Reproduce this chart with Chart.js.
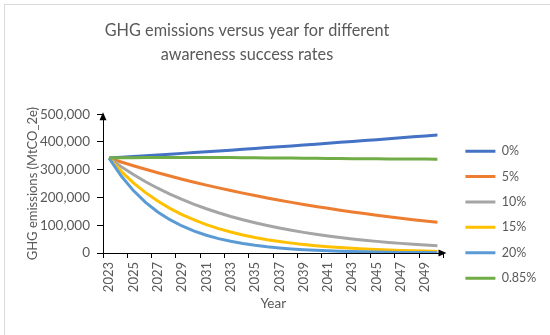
<!DOCTYPE html>
<html>
<head>
<meta charset="utf-8">
<script src="https://cdn.jsdelivr.net/npm/chart.js@4/dist/chart.umd.min.js"></script>
<style>
  html, body { margin: 0; padding: 0; background: #fff; overflow: hidden; }
  #wrap { position: relative; width: 550px; height: 335px; }
  #frame { position: absolute; left: 4px; top: 4px; width: 700px; height: 500px; border-left: 1px solid #d9d9d9; border-top: 1px solid #d9d9d9; }
  #ghgChart { position: absolute; left: 0; top: 0; }
</style>
</head>
<body>
<div id="wrap">
  <div id="frame"></div>
  <canvas id="ghgChart" width="550" height="335"></canvas>
</div>
<script>
const years = ["2023","2024","2025","2026","2027","2028","2029","2030","2031","2032","2033","2034","2035","2036",
  "2037","2038","2039","2040","2041","2042","2043","2044","2045","2046","2047","2048","2049","2050"];

const seriesNames = ["0%", "5%", "10%", "15%", "20%", "0.85%"];
const seriesColors = ["#4472C4", "#ED7D31", "#A5A5A5", "#FFC000", "#5B9BD5", "#70AD47"];

const rate0 = [342000, 344800, 347600, 350400, 353200, 356100, 359000, 361900, 364800, 367800, 370700, 373700, 376800, 379800,
  382900, 386000, 389100, 392300, 395500, 398700, 401900, 405200, 408400, 411800, 415100, 418500, 421900, 425300];
const rate5 = [342000, 328000, 314500, 301600, 289300, 277400, 266000, 255100, 244700, 234600, 225000, 215800, 206900, 198500,
  190300, 182500, 175000, 167900, 161000, 154400, 148100, 142000, 136200, 130600, 125200, 120100, 115200, 110400];
const rate10 = [342000, 310900, 282600, 256900, 233500, 212300, 193000, 175400, 159400, 144900, 131700, 119700, 108800, 98900,
  89900, 81800, 74300, 67600, 61400, 55800, 50800, 46100, 41900, 38100, 34700, 31500, 28600, 26000];
const rate15 = [342000, 294100, 252900, 217500, 187100, 160900, 138400, 119000, 102300, 88000, 75700, 65100, 56000, 48100,
  41400, 35600, 30600, 26300, 22600, 19500, 16700, 14400, 12400, 10700, 9200, 7900, 6800, 5800];
const rate20 = [342000, 277400, 224900, 182400, 147900, 120000, 97300, 78900, 64000, 51900, 42100, 34100, 27700, 22400,
  18200, 14800, 12000, 9700, 7900, 6400, 5200, 4200, 3400, 2700, 2200, 1800, 1500, 1200];
const rate085 = [342000, 342800, 343400, 343800, 344100, 344300, 344400, 344400, 344300, 344100, 343800, 343500, 343100, 342700,
  342300, 341900, 341500, 341100, 340700, 340300, 339900, 339600, 339300, 339000, 338700, 338500, 338300, 338100];

const allSeries = [rate0, rate5, rate10, rate15, rate20, rate085];

const textGrey = "#595959";
const fontFamily = "Lato, 'Open Sans', sans-serif";

// move the title so it sits where the reference has it, and draw the axis arrows
const tweaks = {
  id: "tweaks",
  afterLayout(chart) {
    chart.titleBlock.left = 0;
    chart.titleBlock.right = 494;
  },
  afterDraw(chart) {
    const {ctx, chartArea} = chart;
    const x0 = chart.scales.y.right;
    const y0 = chart.scales.x.top;
    ctx.save();
    ctx.fillStyle = "#000";
    ctx.beginPath();
    ctx.moveTo(x0, chartArea.top - 2);
    ctx.lineTo(x0 - 3.5, chartArea.top + 6);
    ctx.lineTo(x0 + 3.5, chartArea.top + 6);
    ctx.closePath();
    ctx.fill();
    ctx.beginPath();
    ctx.moveTo(chartArea.right + 3, y0);
    ctx.lineTo(chartArea.right - 5, y0 - 3.5);
    ctx.lineTo(chartArea.right - 5, y0 + 3.5);
    ctx.closePath();
    ctx.fill();
    ctx.restore();
  }
};

new Chart(document.getElementById("ghgChart"), {
  type: "line",
  data: {
    labels: years,
    datasets: allSeries.map((vals, i) => ({
      label: seriesNames[i],
      data: vals,
      borderColor: seriesColors[i],
      backgroundColor: seriesColors[i],
      borderWidth: 3,
      pointRadius: 0,
      tension: 0,
      fill: false,
      order: 6 - i
    }))
  },
  options: {
    responsive: false,
    animation: false,
    layout: { padding: { left: 0, right: 7, top: 0, bottom: 0 } },
    plugins: {
      tooltip: { enabled: false },
      title: {
        display: true,
        text: ["GHG emissions versus year for different", "awareness success rates"],
        color: textGrey,
        font: { family: fontFamily, size: 16.3, weight: "normal", lineHeight: 1.48 },
        padding: { top: 19, bottom: 47 }
      },
      legend: {
        position: "right",
        align: "start",
        title: { display: true, text: "", font: { size: 1, lineHeight: 1 }, padding: { top: 131, bottom: 0 } },
        labels: {
          usePointStyle: true,
          pointStyle: "line",
          pointStyleWidth: 30,
          boxWidth: 30,
          padding: 12.9,
          color: textGrey,
          font: { family: fontFamily, size: 12.5 },
          sort: (a, b) => a.datasetIndex - b.datasetIndex
        }
      }
    },
    scales: {
      x: {
        offset: true,
        grid: {
          offset: true,
          drawOnChartArea: false,
          tickLength: 5,
          tickColor: (ctx) => (ctx.index === undefined || ctx.index % 2 === 0) ? "#000" : "rgba(0,0,0,0)"
        },
        border: { color: "#000", width: 1 },
        ticks: {
          autoSkip: false,
          maxRotation: 90,
          minRotation: 90,
          padding: 4,
          color: textGrey,
          font: { family: fontFamily, size: 13 },
          callback: function (value, index) { return index % 2 === 0 ? this.getLabelForValue(value) : ""; }
        },
        title: {
          display: true,
          text: "Year",
          color: textGrey,
          font: { family: fontFamily, size: 13.5 },
          padding: { top: 4, bottom: 23 }
        },
        afterFit: (s) => { s.height = 82; }
      },
      y: {
        min: 0,
        max: 500000,
        grid: { drawOnChartArea: false, tickLength: 6, tickColor: "#000" },
        border: { color: "#000", width: 1 },
        ticks: {
          stepSize: 100000,
          padding: 7,
          color: textGrey,
          font: { family: fontFamily, size: 13.5 }
        },
        title: {
          display: true,
          text: "GHG emissions (MtCO_2e)",
          color: textGrey,
          font: { family: fontFamily, size: 13 },
          padding: { top: 25, bottom: 4 }
        },
        afterFit: (s) => { s.width = 103; }
      },
      spacer: {
        position: "right",
        display: true,
        grid: { display: false },
        border: { display: false },
        ticks: { display: false },
        afterFit: (s) => { s.width = 9; }
      }
    }
  },
  plugins: [tweaks]
});
</script>
</body>
</html>
